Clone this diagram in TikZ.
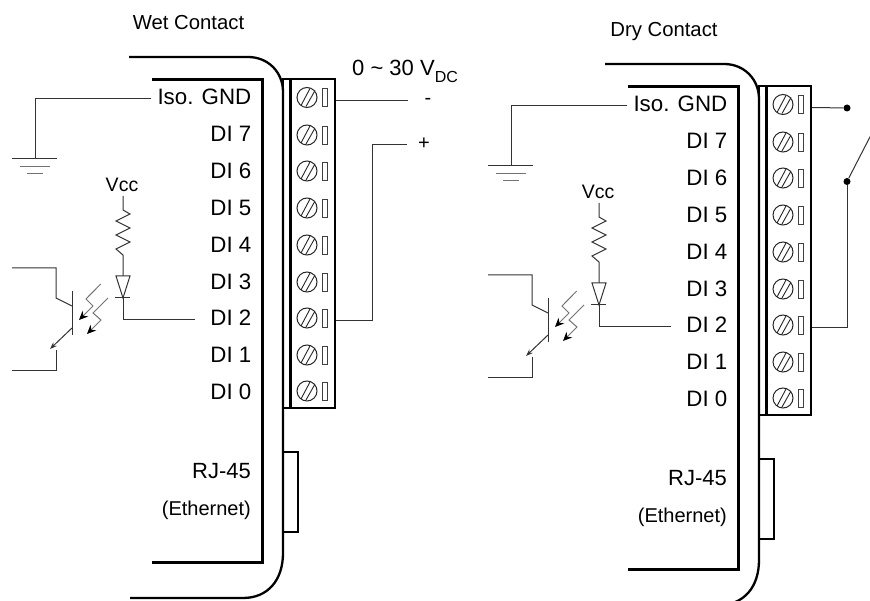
\documentclass[tikz,border=0pt]{standalone}
\usepackage{fontspec}
\usetikzlibrary{arrows.meta}
\setmainfont{Liberation Sans}
\tikzset{
  px/.style={x=1pt,y=-1pt},
  thick line/.style={draw=black,line width=3pt},
  housing/.style={draw=black,line width=2.3pt},
  wire/.style={draw=black!80,line width=1pt},
  wiregray/.style={draw=black!55,line width=1pt},
  lbl/.style={anchor=east,inner sep=0pt,font=\fontsize{22.3}{22}\selectfont},
  rjlbl/.style={anchor=east,inner sep=0pt,font=\fontsize{22}{22}\selectfont},
  sublbl/.style={anchor=east,inner sep=0pt,font=\fontsize{20}{20}\selectfont},
  free/.style={anchor=center,inner sep=0pt,font=\fontsize{20.3}{20}\selectfont},
  vcclbl/.style={anchor=center,inner sep=0pt,font=\fontsize{19.5}{20}\selectfont},
  sign/.style={anchor=center,inner sep=0pt,font=\fontsize{20}{20}\selectfont},
  dotnode/.style={circle,fill=black,inner sep=0pt,minimum size=7pt},
  screw/.style={circle,draw=black!85,line width=1pt,minimum size=20pt,inner sep=0pt},
  slot/.style={draw=black!75,line width=0.9pt,fill=white}
}
\newcommand{\deviceunit}[1]{%
  % housing
  \draw[housing] (129,57) -- (248,57) .. controls (268,57) and (283,72) .. (283,92)
    -- (283,553) .. controls (283,580) and (268,598) .. (243,598) -- (130,598);
  \draw[thick line] (152,79.5) -- (262,79.5) -- (262,562) -- (152,562);
  % terminal block
  \draw[housing] (283,79) rectangle (335,408);
  \draw[thick line] (290,79) -- (290,408);
  % rj45
  \draw[housing] (283,452) -- (298,452) -- (298,532) -- (283,532);
  % screws
  \foreach \i/\yy in {0/97.5,1/135,2/171,3/208,4/245,5/282,6/318,7/355,8/391}{
    \node[screw] (#1s\i) at (307,\yy) {};
    \draw[draw=black!85,line width=0.9pt] (301,\yy+8) -- (310,\yy-9);
    \draw[draw=black!85,line width=0.9pt] (306,\yy+9) -- (315,\yy-7);
    \draw[slot] (322,\yy-9) rectangle (327,\yy+9);
    \coordinate (#1t\i) at (336,\yy+3);
  }
  % labels
  \node[lbl] (#1iso) at (251.5,97) {Iso. GND};
  \node[lbl] (#1di7) at (251.5,134) {DI 7};
  \node[lbl] (#1di6) at (251.5,171) {DI 6};
  \node[lbl] (#1di5) at (251.5,208) {DI 5};
  \node[lbl] (#1di4) at (251.5,245) {DI 4};
  \node[lbl] (#1di3) at (251.5,282) {DI 3};
  \node[lbl] (#1di2) at (251.5,318) {DI 2};
  \node[lbl] (#1di1) at (251.5,355) {DI 1};
  \node[lbl] (#1di0) at (251.5,392) {DI 0};
  \node[rjlbl] (#1rj) at (251,471) {RJ-45};
  \node[sublbl] (#1eth) at (251,510) {(Ethernet)};
  % ground
  \coordinate (#1gnd) at (35,159);
  \draw[wire] (#1iso.west) ++(-6,2) -| (#1gnd);
  \draw[wire] (12,159) -- (57,159);
  \draw[wiregray] (20,167) -- (50,167);
  \draw[wiregray] (27,174) -- (43,174);
  % Vcc branch
  \node[vcclbl] (#1vcc) at (122,185) {Vcc};
  \coordinate (#1ra) at (123,196);
  \coordinate (#1da) at (123,276);
  \coordinate (#1dk) at (123,298);
  \coordinate (#1in) at (195,320);
  \draw[wire,line join=miter] (#1ra) -- (123,210) -- (130,214) -- (116,221) -- (130,228) -- (116,235) -- (130,242) -- (116,249) -- (123,255) -- (#1da);
  \draw[wire,fill=white] (116,276) -- (130,276) -- (123,298) -- cycle;
  \draw[wire] (115,298) -- (130,298);
  \draw[wire] (#1dk) |- (#1in);
  % phototransistor
  \draw[wire] (12,268) -- (56,268) -- (56,298) -- (72,306);
  \draw[wire] (72,291) -- (72,335);
  \draw[wire,-{Stealth[length=7pt,width=5pt]}] (72,328) -- (50,349);
  \draw[wire] (56,350) -- (56,371) -- (12,371);
  % light arrows
  \draw[wiregray,-{Stealth[length=9pt,width=8pt,color=black]}] (100.7,284) -- (86,299) -- (93,306) -- (79,320);
  \draw[wiregray,-{Stealth[length=9pt,width=8pt,color=black]}] (108,298) -- (93,313) -- (101,320) -- (87,334);
}
\begin{document}
\begin{tikzpicture}[px]
\useasboundingbox (0,0) rectangle (870,601);
\clip (0,0) rectangle (870,601);
\fill[white] (0,0) rectangle (870,601);
\deviceunit{l}
\begin{scope}[shift={(476,7)}]
\deviceunit{r}
\end{scope}
% titles
\node[free] (wet) at (188.5,23) {Wet Contact};
\node[free] (dry) at (664,32) {Dry Contact};
% wet wiring
\node[anchor=base west,inner sep=0pt,font=\fontsize{22}{22}\selectfont] (volt) at (352,76) {0 \textasciitilde{} 30 V\raisebox{-7pt}{\fontsize{16}{16}\selectfont DC}};
\node[sign] (minus) at (428,101) {-};
\node[sign] (plus) at (424,144) {+};
\coordinate (lm) at (408,100.5);
\coordinate (lp) at (407,145);
\draw[wire] (lt0) -- (lm);
\draw[wire] (lp) -- (372,145) |- (lt6);
% dry wiring
\node[dotnode] (d1) at (847,108) {};
\node[dotnode] (d2) at (847,181.5) {};
\coordinate (sw) at (872,133);
\draw[wire] (rt0) -- (d1);
\draw[wire] (d2) -- (sw);
\draw[wire] (d2) |- (rt6);
\end{tikzpicture}
\end{document}
